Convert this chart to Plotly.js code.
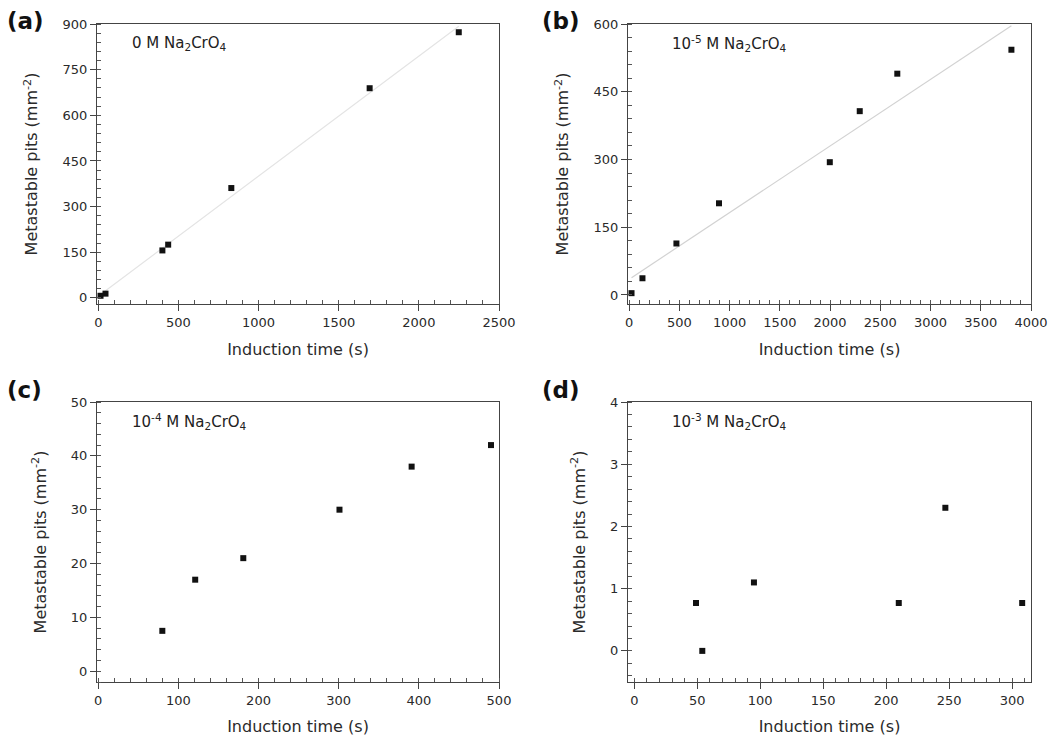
<!DOCTYPE html>
<html>
<head>
<meta charset="utf-8">
<script src="https://cdn.plot.ly/plotly-3.0.1.min.js"></script>
<style>html,body{margin:0;padding:0;background:#fff;}#chart{width:1059px;height:736px;}</style>
</head>
<body>
<div id="chart"></div>
<script>
// Panel (a): 0 M Na2CrO4
const timeA = [14, 45, 400, 436, 830, 1693, 2249];
const pitsA = [7, 14, 156, 175, 361, 689, 873];
// Panel (b): 1e-5 M Na2CrO4
const timeB = [23, 132, 470, 894, 1997, 2295, 2669, 3805];
const pitsB = [4, 37, 114, 203, 294, 407, 490, 543];
// Panel (c): 1e-4 M Na2CrO4
const timeC = [80, 121, 181, 301, 391, 490];
const pitsC = [7.5, 17, 21, 30, 38, 42];
// Panel (d): 1e-3 M Na2CrO4
const timeD = [49, 54, 95, 210, 247, 308];
const pitsD = [0.77, 0, 1.1, 0.77, 2.3, 0.77];

const panelLabels = ['(a)', '(b)', '(c)', '(d)'];
const concLabels = [
  '0 M Na<sub>2</sub>CrO<sub>4</sub>',
  '10<sup>-5</sup> M Na<sub>2</sub>CrO<sub>4</sub>',
  '10<sup>-4</sup> M Na<sub>2</sub>CrO<sub>4</sub>',
  '10<sup>-3</sup> M Na<sub>2</sub>CrO<sub>4</sub>'
];
const xTitle = 'Induction time (s)';
const yTitle = 'Metastable pits (mm<sup>-2</sup>)';

function fit(xs, ys) {
  const n = xs.length;
  const mx = xs.reduce((a, b) => a + b, 0) / n;
  const my = ys.reduce((a, b) => a + b, 0) / n;
  let sxy = 0, sxx = 0;
  for (let i = 0; i < n; i++) { sxy += (xs[i] - mx) * (ys[i] - my); sxx += (xs[i] - mx) ** 2; }
  const k = sxy / sxx, b = my - k * mx;
  const x0 = Math.min(...xs), x1 = Math.max(...xs);
  return { x: [x0, x1], y: [k * x0 + b, k * x1 + b] };
}

const W = 1059, H = 736;
const boxes = [
  { l: 97, r: 499, t: 24, b: 304 },
  { l: 628, r: 1031, t: 24, b: 304 },
  { l: 97, r: 499, t: 402, b: 682 },
  { l: 628, r: 1031, t: 402, b: 682 }
];
const datasets = [[timeA, pitsA], [timeB, pitsB], [timeC, pitsC], [timeD, pitsD]];
const xRanges = [[-8, 2500], [-12, 4000], [-1.5, 500], [-5, 315]];
const yRanges = [[-20, 900], [-20, 600], [-2, 50], [-0.5, 4]];
const xD = [500, 500, 100, 50], xMinor = [100, 100, 20, 10];
const yD = [150, 150, 10, 1], yMinor = [30, 30, 2, 0.2];
const fitColors = ['#e4e4e4', '#d2d2d2', null, null];

const font = 'DejaVu Sans, Arial, sans-serif';
const traces = [];
const layout = {
  width: W, height: H,
  margin: { l: 0, r: 0, t: 0, b: 0 },
  paper_bgcolor: '#fff', plot_bgcolor: '#fff',
  showlegend: false,
  font: { family: font, color: '#2a2a2a', size: 13 },
  annotations: []
};

for (let i = 0; i < 4; i++) {
  const bx = boxes[i];
  const sfx = i === 0 ? '' : String(i + 1);
  const [xs, ys] = datasets[i];
  if (fitColors[i]) {
    const f = fit(xs, ys);
    traces.push({ x: f.x, y: f.y, xaxis: 'x' + sfx, yaxis: 'y' + sfx, mode: 'lines',
      line: { color: fitColors[i], width: 1.2 }, hoverinfo: 'skip' });
  }
  traces.push({ x: xs, y: ys, xaxis: 'x' + sfx, yaxis: 'y' + sfx, mode: 'markers',
    marker: { symbol: 'square', size: 6, color: '#111' } });

  const axCommon = {
    showgrid: false, zeroline: false, showline: true, linecolor: '#444', linewidth: 1,
    mirror: true, ticks: 'outside', ticklen: 6, tickcolor: '#444', tickwidth: 1,
    tickfont: { family: font, size: 13, color: '#2a2a2a' }, automargin: false
  };
  layout['xaxis' + sfx] = Object.assign({}, axCommon, {
    domain: [bx.l / W, bx.r / W], anchor: 'y' + sfx,
    range: xRanges[i], dtick: xD[i], tick0: 0,
    minor: { dtick: xMinor[i], tick0: 0, ticks: 'inside', ticklen: 4, tickcolor: '#555', tickwidth: 1 },
    title: { text: xTitle, font: { family: font, size: 16, color: '#2a2a2a' }, standoff: 15 }
  });
  layout['yaxis' + sfx] = Object.assign({}, axCommon, {
    domain: [1 - bx.b / H, 1 - bx.t / H], anchor: 'x' + sfx,
    range: yRanges[i], dtick: yD[i], tick0: 0,
    minor: { dtick: yMinor[i], tick0: 0, ticks: 'inside', ticklen: 4, tickcolor: '#555', tickwidth: 1 },
    title: { text: yTitle, font: { family: font, size: 16, color: '#2a2a2a' }, standoff: 20 }
  });
  layout.annotations.push({
    xref: 'paper', yref: 'paper', x: (bx.l + (i % 2 === 0 ? 33 : 42)) / W, y: 1 - (bx.t + 19) / H,
    xanchor: 'left', yanchor: 'middle', showarrow: false, text: concLabels[i],
    font: { family: font, size: 15, color: '#222' }
  });
  layout.annotations.push({
    xref: 'paper', yref: 'paper', x: (i % 2 === 0 ? 5 : 540) / W, y: 1 - (bx.t - (i < 2 ? 3 : 12)) / H,
    xanchor: 'left', yanchor: 'middle', showarrow: false, text: '<b>' + panelLabels[i] + '</b>',
    font: { family: font, size: 23, color: '#111' }
  });
}

Plotly.newPlot('chart', traces, layout, { staticPlot: true, displayModeBar: false });
</script>
</body>
</html>
